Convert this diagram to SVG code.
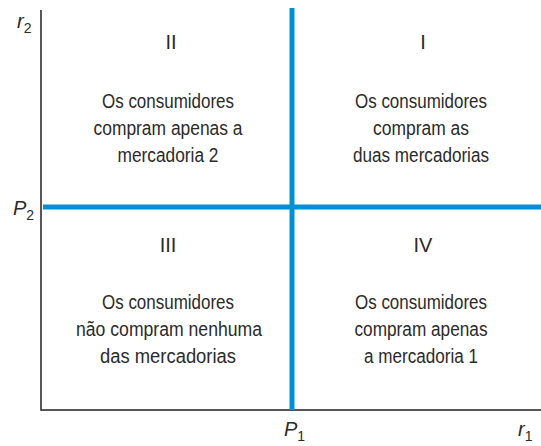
<svg xmlns="http://www.w3.org/2000/svg" width="541" height="446" viewBox="0 0 541 446">
<style>
.t{font-family:"Liberation Sans",Arial,sans-serif;font-size:20px;fill:#2b2b2b;text-anchor:middle}
.ax{font-family:"Liberation Sans",Arial,sans-serif;font-size:20px;fill:#2b2b2b;font-style:italic}
.sub{font-size:14px;font-style:normal}
.axis{stroke:#231f20;stroke-width:1.5;fill:none}
.blue{stroke:#0091d5;stroke-width:5;fill:none}
</style>
<rect width="541" height="446" fill="#fff"/>
<g id="connectors">
<path class="axis" d="M41,10 V410 H541"/>
<path class="blue" d="M292,8 V410"/>
<path class="blue" d="M43,207 H541"/>
</g>
<g id="labels">
<text class="ax" x="17" y="28">r<tspan class="sub" dy="5">2</tspan></text>
<text class="ax" x="13" y="215">P<tspan class="sub" dy="5">2</tspan></text>
<text class="ax" x="284" y="436">P<tspan class="sub" dy="5">1</tspan></text>
<text class="ax" x="518" y="436">r<tspan class="sub" dy="5">1</tspan></text>
</g>
<g id="q2">
<text class="t" x="171" y="49">II</text>
<text class="t" x="168" y="108" textLength="132" lengthAdjust="spacingAndGlyphs">Os consumidores</text>
<text class="t" x="168" y="135" textLength="149" lengthAdjust="spacingAndGlyphs">compram apenas a</text>
<text class="t" x="168" y="162" textLength="101" lengthAdjust="spacingAndGlyphs">mercadoria 2</text>
</g>
<g id="q1">
<text class="t" x="423" y="49">I</text>
<text class="t" x="421" y="108" textLength="132" lengthAdjust="spacingAndGlyphs">Os consumidores</text>
<text class="t" x="421" y="135" textLength="96" lengthAdjust="spacingAndGlyphs">compram as</text>
<text class="t" x="421" y="162" textLength="136" lengthAdjust="spacingAndGlyphs">duas mercadorias</text>
</g>
<g id="q3">
<text class="t" x="168" y="252">III</text>
<text class="t" x="168" y="309" textLength="132" lengthAdjust="spacingAndGlyphs">Os consumidores</text>
<text class="t" x="169" y="336" textLength="186" lengthAdjust="spacingAndGlyphs">não compram nenhuma</text>
<text class="t" x="168" y="363" textLength="136" lengthAdjust="spacingAndGlyphs">das mercadorias</text>
</g>
<g id="q4">
<text class="t" x="423" y="252">IV</text>
<text class="t" x="421" y="309" textLength="132" lengthAdjust="spacingAndGlyphs">Os consumidores</text>
<text class="t" x="421" y="336" textLength="133" lengthAdjust="spacingAndGlyphs">compram apenas</text>
<text class="t" x="421" y="363" textLength="114" lengthAdjust="spacingAndGlyphs">a mercadoria 1</text>
</g>
</svg>
